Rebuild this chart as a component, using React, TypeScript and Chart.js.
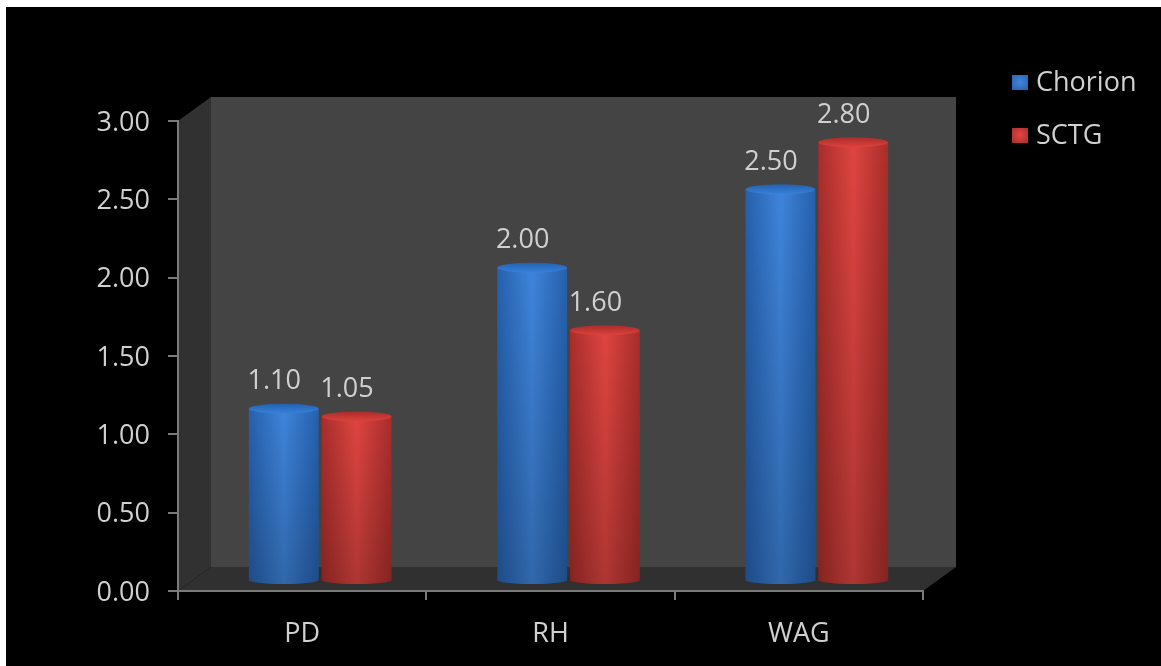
import React, { useEffect, useRef } from "react";
import { Chart, registerables } from "chart.js";

Chart.register(...registerables);

const categories = ["PD", "RH", "WAG"];
const chorion = [1.1, 2.0, 2.5];
const sctg = [1.05, 1.6, 2.8];
const yTicks = [0, 0.5, 1, 1.5, 2, 2.5, 3];

const FONT = '"Open Sans", sans-serif';
const TEXT = "#d0d0d0";
const AXIS = "#7a7a7a";

// Each series: rim, highlight and cap shades of the cylinders.
const shades = [
  { edge: "#2560ad", mid: "#3f84da", cap: "#3682dc", capTop: "#2560ae" },
  { edge: "#a82d2a", mid: "#de4541", cap: "#de423e", capTop: "#ab2c29" },
];

// Projection of the 3D box and of the bars standing inside it.
const BOX_DX = 33;
const BOX_DY = 24;
const BAR_DX = 18;
const BAR_DY = -10;
const CAP_RY = 5;

const scene = {
  id: "scene",
  beforeDraw(chart: any) {
    const { ctx, chartArea: a, width, height } = chart;
    ctx.save();
    ctx.fillStyle = "#ffffff";
    ctx.fillRect(0, 0, width, height);
    ctx.fillStyle = "#000000";
    ctx.fillRect(6, 7, width - 6, height - 7);
    // back wall
    ctx.fillStyle = "#444444";
    ctx.fillRect(a.left + BOX_DX, a.top - BOX_DY, a.width, a.height);
    // side wall
    ctx.fillStyle = "#313131";
    ctx.beginPath();
    ctx.moveTo(a.left, a.top);
    ctx.lineTo(a.left + BOX_DX, a.top - BOX_DY);
    ctx.lineTo(a.left + BOX_DX, a.bottom - BOX_DY);
    ctx.lineTo(a.left, a.bottom);
    ctx.closePath();
    ctx.fill();
    // floor
    ctx.fillStyle = "#303030";
    ctx.beginPath();
    ctx.moveTo(a.left, a.bottom);
    ctx.lineTo(a.left + BOX_DX, a.bottom - BOX_DY);
    ctx.lineTo(a.right + BOX_DX, a.bottom - BOX_DY);
    ctx.lineTo(a.right, a.bottom);
    ctx.closePath();
    ctx.fill();
    ctx.restore();
  },
  beforeDatasetDraw(chart: any, args: any) {
    const { ctx } = chart;
    const s = shades[args.index];
    ctx.save();
    ctx.translate(BAR_DX, BAR_DY);
    for (const el of args.meta.data) {
      const half = el.width / 2;
      const g = ctx.createLinearGradient(el.x - half, 0, el.x + half, 0);
      g.addColorStop(0, s.edge);
      g.addColorStop(0.5, s.mid);
      g.addColorStop(1, s.edge);
      el.options = { ...el.options, backgroundColor: g };
      // rounded foot of the cylinder
      ctx.fillStyle = g;
      ctx.beginPath();
      ctx.ellipse(el.x, el.base, half, CAP_RY - 1, 0, 0, Math.PI * 2);
      ctx.fill();
    }
  },
  afterDatasetDraw(chart: any, args: any) {
    const { ctx } = chart;
    const s = shades[args.index];
    for (const el of args.meta.data) {
      const half = el.width / 2;
      // the lower part of each cylinder falls off into shade
      const v = ctx.createLinearGradient(0, el.y, 0, el.base + CAP_RY);
      v.addColorStop(0, "rgba(0,0,0,0)");
      v.addColorStop(1, "rgba(0,0,0,0.22)");
      ctx.fillStyle = v;
      ctx.beginPath();
      ctx.moveTo(el.x - half, el.y);
      ctx.lineTo(el.x + half, el.y);
      ctx.lineTo(el.x + half, el.base);
      ctx.ellipse(el.x, el.base, half, CAP_RY - 1, 0, 0, Math.PI);
      ctx.closePath();
      ctx.fill();
      // top cap
      const c = ctx.createLinearGradient(0, el.y - CAP_RY, 0, el.y + CAP_RY);
      c.addColorStop(0, s.capTop);
      c.addColorStop(1, s.cap);
      ctx.fillStyle = c;
      ctx.beginPath();
      ctx.ellipse(el.x, el.y, half, CAP_RY, 0, 0, Math.PI * 2);
      ctx.fill();
    }
    ctx.restore();
  },
  afterDraw(chart: any) {
    const { ctx } = chart;
    ctx.save();
    // value labels above the bars
    ctx.font = `27px ${FONT}`;
    ctx.fillStyle = TEXT;
    ctx.textAlign = "center";
    ctx.textBaseline = "middle";
    chart.data.datasets.forEach((ds: any, i: number) => {
      chart.getDatasetMeta(i).data.forEach((el: any, j: number) => {
        ctx.fillText(ds.data[j].toFixed(2), el.x + 8.5, el.y - 37);
      });
    });
    // legend
    ctx.textAlign = "left";
    chart.data.datasets.forEach((ds: any, i: number) => {
      const y = 82 + i * 53;
      const s = shades[i];
      const g = ctx.createRadialGradient(1020, y, 1, 1020, y, 11);
      g.addColorStop(0, s.mid);
      g.addColorStop(1, s.edge);
      ctx.fillStyle = g;
      ctx.fillRect(1012, y - 7, 16, 15);
      ctx.fillStyle = TEXT;
      ctx.fillText(ds.label, 1036, y + 1);
    });
    ctx.restore();
  },
};

export default function App() {
  const ref = useRef<HTMLCanvasElement>(null);
  useEffect(() => {
    document.body.style.margin = "0";
    const chart = new Chart(ref.current as HTMLCanvasElement, {
      type: "bar",
      data: {
        labels: categories,
        datasets: [
          { label: "Chorion", data: chorion, clip: false },
          { label: "SCTG", data: sctg, clip: false },
        ] as any,
      },
      options: {
        animation: false,
        responsive: false,
        categoryPercentage: 0.586,
        barPercentage: 0.96,
        layout: { padding: { left: 0, top: 121, right: 238, bottom: 0 } },
        plugins: { legend: { display: false }, tooltip: { enabled: false }, title: { display: false } },
        scales: {
          x: {
            afterFit: (s: any) => { s.height = 75; },
            grid: { drawOnChartArea: false, drawTicks: true, tickLength: 9, color: AXIS, lineWidth: 2 },
            border: { color: AXIS, width: 2 },
            ticks: { color: TEXT, font: { family: FONT, size: 27 }, padding: 18, maxRotation: 0 },
          },
          y: {
            min: 0,
            max: 3,
            afterFit: (s: any) => { s.width = 178; },
            afterBuildTicks: (s: any) => { s.ticks = yTicks.map((value) => ({ value })); },
            grid: { drawOnChartArea: false, drawTicks: true, tickLength: 10, color: AXIS, lineWidth: 2 },
            border: { color: AXIS, width: 2 },
            ticks: {
              color: TEXT,
              font: { family: FONT, size: 27 },
              padding: 18,
              labelOffset: 2,
              callback: (v: any) => Number(v).toFixed(2),
            },
          },
        },
      } as any,
      plugins: [scene],
    });
    return () => chart.destroy();
  }, []);
  return <canvas ref={ref} width={1161} height={666} style={{ display: "block" }} />;
}
